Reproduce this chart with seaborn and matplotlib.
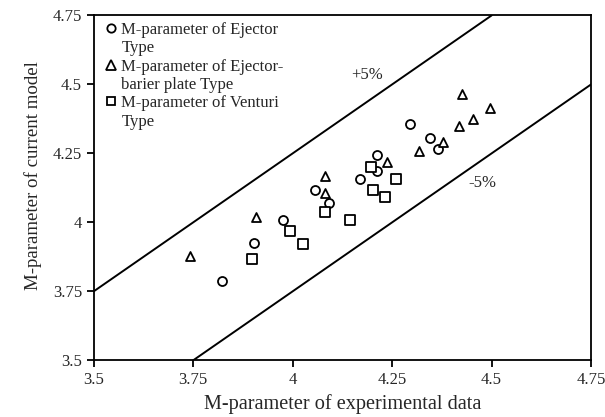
import pandas as pd
import matplotlib
matplotlib.use("Agg")
import matplotlib.pyplot as plt
import seaborn as sns
from matplotlib.lines import Line2D

# values
ejector_x = [3.822, 3.903, 3.976, 4.056, 4.091, 4.169, 4.211, 4.213, 4.295, 4.345, 4.366]
ejector_y = [3.786, 3.925, 4.008, 4.116, 4.069, 4.156, 4.243, 4.187, 4.356, 4.304, 4.266]

barier_x = [3.741, 3.907, 4.081, 4.081, 4.236, 4.318, 4.377, 4.418, 4.452, 4.426, 4.496]
barier_y = [3.878, 4.020, 4.168, 4.105, 4.218, 4.258, 4.292, 4.349, 4.373, 4.465, 4.413]

venturi_x = [3.897, 3.993, 4.026, 4.080, 4.144, 4.196, 4.203, 4.232, 4.259]
venturi_y = [3.866, 3.970, 3.921, 4.038, 4.008, 4.201, 4.117, 4.092, 4.156]

# +5% / -5% bounds
upper_x = [3.5, 4.5]
upper_y = [3.75, 4.75]
lower_x = [3.75, 4.75]
lower_y = [3.5, 4.5]

ticks = [3.5, 3.75, 4.0, 4.25, 4.5, 4.75]
tick_labels = ["3.5", "3.75", "4", "4.25", "4.5", "4.75"]

groups = ["Ejector", "Barier", "Venturi"]
legend_lines = [("M-parameter of Ejector", "Type"),
                ("M-parameter of Ejector-", "barier plate Type"),
                ("M-parameter of Venturi", "Type")]
marker_map = {"Ejector": "o", "Barier": "^", "Venturi": "s"}

data = pd.DataFrame({
    "x": ejector_x + barier_x + venturi_x,
    "y": ejector_y + barier_y + venturi_y,
    "type": ["Ejector"] * len(ejector_x) + ["Barier"] * len(barier_x) + ["Venturi"] * len(venturi_x),
})

sns.set_style("ticks")
plt.rcParams["font.family"] = ["Liberation Serif", "DejaVu Serif"]

fig, ax = plt.subplots(figsize=(6.05, 4.17), dpi=100)
fig.subplots_adjust(left=0.155, right=0.977, bottom=0.136, top=0.963)

ax.plot(upper_x, upper_y, color="black", lw=1.4)
ax.plot(lower_x, lower_y, color="black", lw=1.4)

for g in groups:
    sub = data[data["type"] == g]
    sns.scatterplot(data=sub, x="x", y="y", marker=marker_map[g], s=42,
                    color="white", edgecolor="black", linewidth=1.3, ax=ax, legend=False)

ax.text(4.186, 4.534, "+5%", fontsize=12, ha="center", va="center")
ax.text(4.476, 4.142, "-5%", fontsize=12, ha="center", va="center")

ax.set_xlim(3.5, 4.75)
ax.set_ylim(3.5, 4.75)
ax.set_xticks(ticks)
ax.set_xticklabels(tick_labels, fontsize=12)
ax.set_yticks(ticks)
ax.set_yticklabels(tick_labels, fontsize=12)
ax.tick_params(direction="out", length=5, width=1.3, color="black")
for sp in ax.spines.values():
    sp.set_color("black")
    sp.set_linewidth(1.3)

ax.set_xlabel("M-parameter of experimental data", fontsize=14.6)
ax.set_ylabel("M-parameter of current model", fontsize=13.6)
ax.yaxis.set_label_coords(-0.105, 0.537)

# legend: marker on first line, wrapped second line without marker
handles, labels = [], []
for g, (l1, l2) in zip(groups, legend_lines):
    handles.append(Line2D([], [], ls="none", marker=marker_map[g], ms=6.5 if g == "Barier" else 6,
                          mfc="white", mec="black", mew=1.3))
    labels.append(l1)
    handles.append(Line2D([], [], ls="none"))
    labels.append(l2)
ax.legend(handles, labels, loc="upper left", frameon=False, fontsize=12,
          handlelength=0.6, handletextpad=0.3, labelspacing=0.14,
          borderaxespad=0.3, bbox_to_anchor=(0.002, 1.015))

fig.savefig("out.png", dpi=100)
